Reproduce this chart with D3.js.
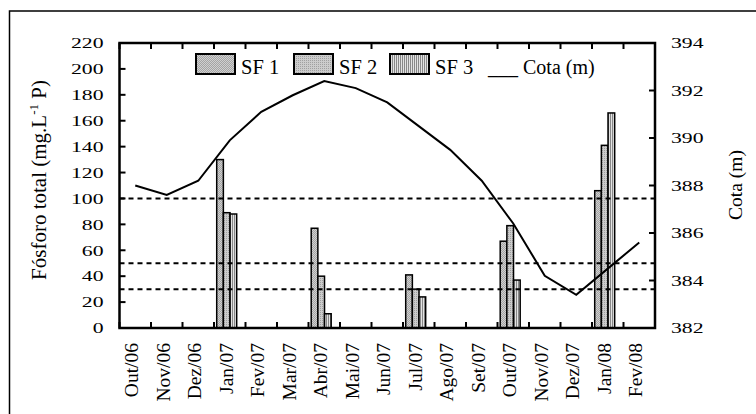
<!DOCTYPE html>
<html>
<head>
<meta charset="utf-8">
<script src="https://cdn.jsdelivr.net/npm/d3@7"></script>
<style>
  body { margin: 0; background: #fff; }
  svg { display: block; }
</style>
</head>
<body>
<div id="chart"></div>
<script>
var months = ["Out/06", "Nov/06", "Dez/06", "Jan/07", "Fev/07", "Mar/07", "Abr/07", "Mai/07", "Jun/07",
    "Jul/07", "Ago/07", "Set/07", "Out/07", "Nov/07", "Dez/07", "Jan/08", "Fev/08"];
var seriesNames = ["SF 1", "SF 2", "SF 3"];
var sf1 = [null, null, null, 130, null, null, 77, null, null, 41, null, null, 67, null, null, 106, null];
var sf2 = [null, null, null, 89, null, null, 40, null, null, 30, null, null, 79, null, null, 141, null];
var sf3 = [null, null, null, 88, null, null, 11, null, null, 24, null, null, 37, null, null, 166, null];
var cota = [388.0, 387.6, 388.2, 389.9, 391.1, 391.8, 392.4, 392.1, 391.5, 390.5, 389.5, 388.2,
    386.4, 384.2, 383.4, 384.5, 385.6];
var limits = [100, 50, 30];
var leftTicks = d3.range(0, 221, 20);
var rightTicks = d3.range(382, 395, 2);

var width = 756, height = 414;
var plot = { left: 119.5, right: 655, top: 43, bottom: 328 };
var serif = "Liberation Serif";

var svg = d3.select("#chart").append("svg")
    .attr("width", width)
    .attr("height", height);

// hatch fills for the three bar series
var defs = svg.append("defs");
var p1 = defs.append("pattern").attr("id", "hatch1").attr("patternUnits", "userSpaceOnUse")
    .attr("width", 2).attr("height", 2);
p1.append("rect").attr("width", 2).attr("height", 2).attr("fill", "#d0d0d0");
p1.append("path").attr("d", "M0,2L2,0").attr("stroke", "#909090").attr("stroke-width", 0.7);
var p2 = defs.append("pattern").attr("id", "hatch2").attr("patternUnits", "userSpaceOnUse")
    .attr("width", 2).attr("height", 2);
p2.append("rect").attr("width", 2).attr("height", 2).attr("fill", "#cccccc");
p2.append("rect").attr("width", 1).attr("height", 1).attr("fill", "#a0a0a0");
var p3 = defs.append("pattern").attr("id", "hatch3").attr("patternUnits", "userSpaceOnUse")
    .attr("width", 2).attr("height", 4);
p3.append("rect").attr("width", 2).attr("height", 4).attr("fill", "#e2e2e2");
p3.append("rect").attr("width", 1).attr("height", 4).attr("fill", "#888888");
var fills = ["url(#hatch1)", "url(#hatch2)", "url(#hatch3)"];

// outer frame (runs past the picture edge)
svg.append("rect")
    .attr("x", 9.5).attr("y", 11)
    .attr("width", 800).attr("height", 500)
    .attr("fill", "none").attr("stroke", "#000").attr("stroke-width", 1.5);

var x = d3.scaleBand().domain(months).range([plot.left, plot.right]).padding(0);
var inner = d3.scaleBand().domain(seriesNames)
    .range([x.bandwidth() * 0.086, x.bandwidth() * 0.72]);
var yL = d3.scaleLinear().domain([0, 220]).range([plot.bottom, plot.top]);
var yR = d3.scaleLinear().domain([382, 394]).range([plot.bottom, plot.top]);

function widen(sel, k) {
    sel.each(function () {
        var len = this.getComputedTextLength();
        d3.select(this).attr("textLength", len * k).attr("lengthAdjust", "spacingAndGlyphs");
    });
}

// bars
var seriesValues = [sf1, sf2, sf3];
var bars = svg.append("g");
seriesValues.forEach(function (values, i) {
    bars.selectAll(".b" + i)
        .data(values.map(function (v, j) { return { m: months[j], v: v }; })
            .filter(function (d) { return d.v !== null; }))
        .enter().append("rect")
        .attr("x", function (d) { return x(d.m) + inner(seriesNames[i]); })
        .attr("y", function (d) { return yL(d.v); })
        .attr("width", inner.bandwidth())
        .attr("height", function (d) { return yL(0) - yL(d.v); })
        .attr("fill", fills[i])
        .attr("stroke", "#000")
        .attr("stroke-width", 1.5);
});

// reference levels
svg.append("g").selectAll("line")
    .data(limits)
    .enter().append("line")
    .attr("x1", plot.left).attr("x2", plot.right)
    .attr("y1", function (d) { return yL(d); })
    .attr("y2", function (d) { return yL(d); })
    .attr("stroke", "#000")
    .attr("stroke-width", 2)
    .attr("stroke-dasharray", "5,4");

// Cota line on the right scale
svg.append("path")
    .datum(cota)
    .attr("fill", "none")
    .attr("stroke", "#000")
    .attr("stroke-width", 2)
    .attr("d", d3.line()
        .x(function (d, i) { return x(months[i]) + x.bandwidth() / 2; })
        .y(function (d) { return yR(d); }));

// frame of the plot area
svg.append("rect")
    .attr("x", plot.left).attr("y", plot.top)
    .attr("width", plot.right - plot.left).attr("height", plot.bottom - plot.top)
    .attr("fill", "none").attr("stroke", "#000").attr("stroke-width", 2.5);

// inward tick marks on all four sides
var bounds = months.map(function (m) { return x(m); }).concat([plot.right]);
var ticks = svg.append("g").attr("stroke", "#000").attr("stroke-width", 2);
bounds.forEach(function (bx) {
    ticks.append("line").attr("x1", bx).attr("x2", bx).attr("y1", plot.bottom).attr("y2", plot.bottom - 6);
    ticks.append("line").attr("x1", bx).attr("x2", bx).attr("y1", plot.top).attr("y2", plot.top + 6);
});
leftTicks.forEach(function (t) {
    ticks.append("line").attr("x1", plot.left).attr("x2", plot.left + 6).attr("y1", yL(t)).attr("y2", yL(t));
});
rightTicks.forEach(function (t) {
    ticks.append("line").attr("x1", plot.right).attr("x2", plot.right - 6).attr("y1", yR(t)).attr("y2", yR(t));
});

// tick labels
var leftLabels = svg.append("g").selectAll("text")
    .data(leftTicks)
    .enter().append("text")
    .attr("font-family", serif)
    .attr("font-size", 15.5)
    .attr("x", 103.5)
    .attr("y", function (d) { return yL(d); })
    .attr("dy", "0.34em")
    .attr("text-anchor", "end")
    .text(function (d) { return d; });
widen(leftLabels, 1.4);

var rightLabels = svg.append("g").selectAll("text")
    .data(rightTicks)
    .enter().append("text")
    .attr("font-family", serif)
    .attr("font-size", 15.5)
    .attr("x", 671)
    .attr("y", function (d) { return yR(d); })
    .attr("dy", "0.34em")
    .attr("text-anchor", "start")
    .text(function (d) { return d; });
widen(rightLabels, 1.4);

svg.append("g").selectAll("text")
    .data(months)
    .enter().append("text")
    .attr("font-family", serif)
    .attr("font-size", 19.5)
    .attr("transform", function (d) {
        return "translate(" + (x(d) + x.bandwidth() / 2 + 3) + "," + 343 + ") rotate(-90)";
    })
    .attr("text-anchor", "end")
    .text(function (d) { return d; });

// axis titles
var leftTitle = svg.append("text")
    .attr("font-family", serif)
    .attr("font-size", 21)
    .attr("transform", "translate(46,180) rotate(-90)")
    .attr("text-anchor", "middle");
leftTitle.append("tspan").text("Fósforo total (mg.L");
leftTitle.append("tspan").attr("dy", -8).attr("font-size", 13).text("-1");
leftTitle.append("tspan").attr("dy", 8).text(" P)");

svg.append("text")
    .attr("font-family", serif)
    .attr("font-size", 19.5)
    .attr("transform", "translate(742,185) rotate(-90)")
    .attr("text-anchor", "middle")
    .text("Cota (m)");

// legend
var legendBoxes = [196, 294, 390];
var legend = svg.append("g");
seriesNames.forEach(function (name, i) {
    legend.append("rect")
        .attr("x", legendBoxes[i]).attr("y", 54)
        .attr("width", 39).attr("height", 20)
        .attr("fill", fills[i])
        .attr("stroke", "#000").attr("stroke-width", 2);
    legend.append("text")
        .attr("font-family", serif)
        .attr("font-size", 20.5)
        .attr("x", legendBoxes[i] + 45).attr("y", 74)
        .text(name);
});
legend.append("text")
    .attr("font-family", serif)
    .attr("font-size", 20)
    .attr("x", 488).attr("y", 74)
    .text("___ Cota (m)");
</script>
</body>
</html>
